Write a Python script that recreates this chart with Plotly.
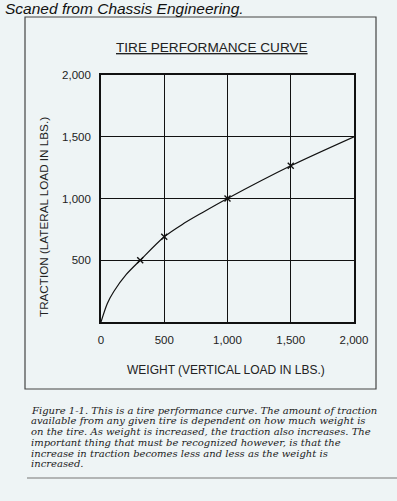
import plotly.graph_objects as go

# ---- data ----
weight = [0, 50, 100, 200, 310, 500, 650, 800, 1000, 1500, 2000]
traction = [0, 150, 245, 385, 500, 690, 795, 885, 1000, 1265, 1500]
marked_weight = [310, 500, 1000, 1500]
marked_traction = [500, 690, 1000, 1265]
tick_vals = [0, 500, 1000, 1500, 2000]
x_tick_text = ["0", "500", "1,000", "1,500", "2,000"]
y_tick_text = ["", "500", "1,000", "1,500", "2,000"]

caption_lines = [
    "Figure 1-1. This is a tire performance curve. The amount of traction",
    "available from any given tire is dependent on how much weight is",
    "on the tire. As weight is increased, the traction also increases. The",
    "important thing that must be recognized however, is that the",
    "increase in traction becomes less and less as the weight is",
    "increased.",
]

W, H = 397, 501
L, R, T, B = 101, 354, 75, 322  # plot area pixel bounds


def px(xp):
    return (xp - L) / (R - L)


def py(yp):
    return (B - yp) / (B - T)


BG = "#eef4f5"
sans = "Liberation Sans, Arial, sans-serif"

fig = go.Figure()
fig.add_trace(go.Scatter(
    x=weight, y=traction, mode="lines",
    line=dict(color="#111", width=1.2, shape="spline", smoothing=0.8),
    hoverinfo="skip", showlegend=False,
))
fig.add_trace(go.Scatter(
    x=marked_weight, y=marked_traction, mode="markers",
    marker=dict(symbol="x-thin", size=6, line=dict(color="#111", width=1.4)),
    showlegend=False,
))

axis_common = dict(
    range=[0, 2000], tickvals=tick_vals, showgrid=True, gridcolor="#111",
    gridwidth=1.3, zeroline=False, showline=True, linecolor="#111",
    linewidth=1.6, mirror=True, ticks="",
    tickfont=dict(family=sans, size=11.5, color="#222"),
    fixedrange=True,
)
fig.update_xaxes(**axis_common, ticktext=x_tick_text, ticklabelstandoff=6)
fig.update_yaxes(**axis_common, ticktext=y_tick_text, ticklabelstandoff=6)

annotations = [
    dict(text="<i>Scaned from Chassis Engineering.</i>", x=px(3), y=py(9),
         xanchor="left", yanchor="middle",
         font=dict(family=sans, size=15.5, color="#111")),
    dict(text="<u>TIRE PERFORMANCE CURVE</u>", x=px(212), y=py(48),
         xanchor="center", yanchor="middle",
         font=dict(family=sans, size=13.6, color="#222")),
    dict(text="WEIGHT (VERTICAL LOAD IN LBS.)", x=px(226), y=py(370),
         xanchor="center", yanchor="middle",
         font=dict(family=sans, size=12, color="#222")),
    dict(text="TRACTION (LATERAL LOAD IN LBS.)", x=px(43), y=py(217),
         xanchor="center", yanchor="middle", textangle=-90,
         font=dict(family=sans, size=11.7, color="#222")),
]
line_y0, line_dy = 410, 10.8
for i, line in enumerate(caption_lines):
    annotations.append(dict(
        text="<i>" + line + "</i>", x=px(29), y=py(line_y0 + i * line_dy),
        xanchor="left", yanchor="middle",
        font=dict(family="DejaVu Serif, serif", size=10, color="#222"),
    ))
for a in annotations:
    a.update(xref="paper", yref="paper", showarrow=False)

shapes = [
    dict(type="rect", xref="paper", yref="paper",
         x0=px(25), x1=px(376), y0=py(389), y1=py(17),
         line=dict(color="#444", width=1.2), layer="below"),
    dict(type="line", xref="paper", yref="paper",
         x0=px(27), x1=px(397), y0=py(478), y1=py(478),
         line=dict(color="#777", width=1.2)),
]

fig.update_layout(
    width=W, height=H, autosize=False,
    margin=dict(l=L, r=W - R, t=T, b=H - B),
    paper_bgcolor=BG, plot_bgcolor=BG,
    annotations=annotations, shapes=shapes, showlegend=False,
)

fig.write_html(
    "out.html",
    config={"displayModeBar": False},
    post_script="document.body.style.margin='0';document.body.style.overflow='hidden';",
)
